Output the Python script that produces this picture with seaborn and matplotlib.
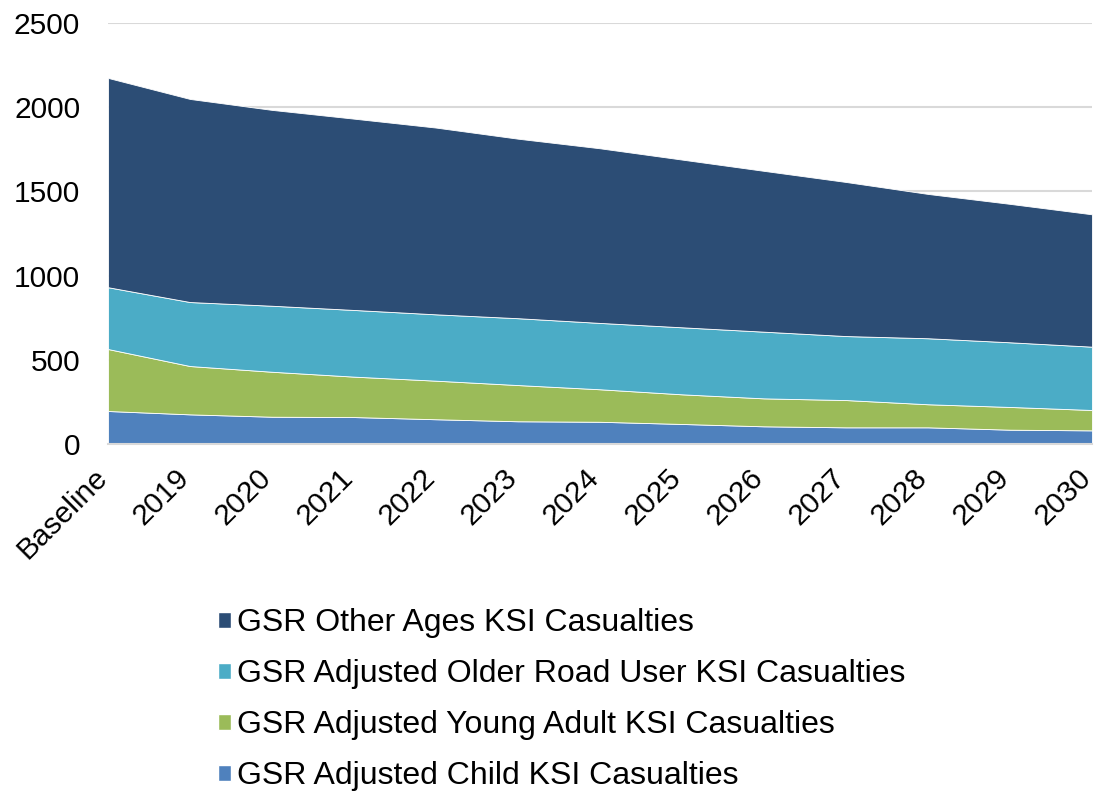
import matplotlib
matplotlib.use("Agg")
import matplotlib.pyplot as plt
import matplotlib.transforms as mtransforms
from matplotlib.patches import Patch
import seaborn as sns

years = ["Baseline", "2019", "2020", "2021", "2022", "2023", "2024",
         "2025", "2026", "2027", "2028", "2029", "2030"]
child = [196, 176, 162, 160, 147, 135, 132, 119, 105, 99, 99, 85, 81]
young_adult = [368, 287, 267, 240, 229, 215, 193, 176, 166, 162, 137, 135, 121]
older_user = [367, 380, 392, 396, 394, 397, 394, 398, 396, 380, 392, 384, 376]
other_ages = [1243, 1206, 1163, 1136, 1109, 1066, 1037, 996, 955, 915, 857, 822, 786]

labels = ["GSR Adjusted Child KSI Casualties",
          "GSR Adjusted Young Adult KSI Casualties",
          "GSR Adjusted Older Road User KSI Casualties",
          "GSR Other Ages KSI Casualties"]
colours = ["#4F81BD", "#9BBB59", "#4BACC6", "#2C4D75"]

sns.set_theme(style="white")
plt.rcParams["font.family"] = ["Liberation Sans", "DejaVu Sans"]

fig = plt.figure(figsize=(11.01, 7.96), dpi=100)
ax = fig.add_axes([0.0981, 0.4422, 0.8937, 0.5289])

x = list(range(len(years)))
ax.stackplot(x, child, young_adult, older_user, other_ages,
             colors=colours, edgecolor="white", linewidth=0.6, zorder=2)

ax.set_xlim(0, len(years) - 1)
ax.set_ylim(0, 2500)
ax.set_yticks(range(0, 2501, 500))
ax.yaxis.grid(True, color="#d9d9d9", linewidth=1.5, zorder=0)
ax.set_axisbelow(True)
for s in ["top", "right", "left"]:
    ax.spines[s].set_visible(False)
ax.spines["bottom"].set_color("#d9d9d9")
ax.spines["bottom"].set_linewidth(1.5)

ax.set_xticks(x)
ax.set_xticklabels(years, rotation=45, ha="right", va="center",
                   rotation_mode="anchor")
ax.tick_params(axis="both", labelsize=21.5, colors="black", length=0)
ax.tick_params(axis="x", pad=21)
ax.tick_params(axis="y", pad=20)
shift = mtransforms.ScaledTranslation(-5 / 100, 0, fig.dpi_scale_trans)
for lbl in ax.get_xticklabels():
    lbl.set_transform(lbl.get_transform() + shift)

handles = [Patch(facecolor=c) for c in colours][::-1]
fig.legend(handles, labels[::-1], loc="upper left",
           bbox_to_anchor=(0.172, 0.272), frameon=False, fontsize=23,
           labelcolor="black",
           handlelength=0.4, handleheight=0.4, handletextpad=0.2,
           labelspacing=0.66)

fig.savefig("out.png", dpi=100)
